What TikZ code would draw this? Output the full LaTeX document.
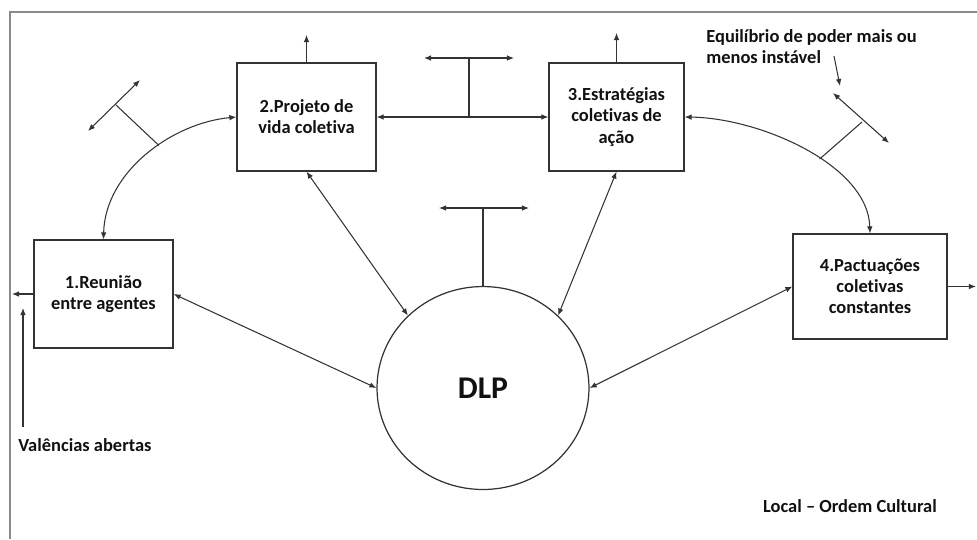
\documentclass[tikz,border=0pt]{standalone}
\usepackage{fontspec}
\setmainfont{Carlito}[Ligatures={TeX,NoCommon}]
\usetikzlibrary{arrows.meta,shapes.geometric,positioning,calc}
\definecolor{dlpInk}{HTML}{111111}
\definecolor{dlpLine}{HTML}{333333}
\definecolor{dlpFrame}{HTML}{8A8A8A}
\tikzset{
  box/.style={draw=dlpLine, line width=0.7pt, minimum width=2.78cm, minimum height=2.16cm, inner sep=2pt, align=center, text=dlpInk, font=\fontsize{10.5}{12}\selectfont\bfseries},
  hub/.style={ellipse, draw=dlpLine, line width=0.7pt, minimum width=4.24cm, minimum height=4.06cm, text=dlpInk, font=\fontsize{18}{20}\selectfont\bfseries},
  lbl/.style={inner sep=0pt, text=dlpInk, font=\fontsize{10.5}{12}\selectfont\bfseries},
  arr/.style={-{Latex[length=4pt,width=3.2pt]}, line width=0.6pt, draw=dlpLine},
  darr/.style={{Latex[length=4pt,width=3.2pt]}-{Latex[length=4pt,width=3.2pt]}, line width=0.6pt, draw=dlpLine},
  tee/.style={line width=0.6pt, draw=dlpLine},
}
\begin{document}
\begin{tikzpicture}[x=0.02cm, y=-0.02cm]
  \useasboundingbox (0,0) rectangle (977,539);
  \draw[draw=dlpFrame, line width=1.1pt] (10,539) -- (10,12) -- (977,12);
  % stages
  \node[box] (reun) at (103.5,294) {1.Reunião\\entre agentes};
  \node[box] (proj) at (306.5,117) {2.Projeto de\\vida coletiva};
  \node[box, minimum width=2.7cm] (estr) at (616.5,117) {3.Estratégias\\coletivas de\\ação};
  \node[box, minimum width=3.08cm, minimum height=2.1cm] (pact) at (870,286.5) {4.Pactuações\\coletivas\\constantes};
  \node[hub] (dlp) at (483,388) {DLP};
  % labels
  \node[lbl, anchor=west] (val) at (18,445) {Valências abertas};
  \node[lbl, anchor=west, align=left] (equi) at (706,46.5) {Equilíbrio de poder mais ou\\menos instável};
  \node[lbl] (local) at (850,506) {Local – Ordem Cultural};
  % free ends
  \coordinate (outL) at (12,294);
  \coordinate (outR) at (976,286.5);
  \coordinate (outP) at (306.5,35);
  \coordinate (outE) at (616.5,33);
  \coordinate (valB) at (23,427);
  \coordinate (valT) at (23,308);
  \coordinate (eqA) at (834,56);
  \coordinate (eqB) at (840,86);
  \coordinate (pe) at (469,117);
  \coordinate (peT) at (469,58);
  \coordinate (peL) at (424,58);
  \coordinate (peR) at (514,58);
  \coordinate (dlpT) at (483,208);
  \coordinate (dlpL) at (439,208);
  \coordinate (dlpR) at (529,208);
  \coordinate (rpT) at (116,105);
  \coordinate (rpL) at (88,131);
  \coordinate (rpR) at (140,80);
  \coordinate (epT) at (862,122);
  \coordinate (epL) at (833,93);
  \coordinate (epR) at (889,143);
  % connectors
  \foreach \u/\v in {proj.east/estr.west,proj.south/dlp.136,estr.south/dlp.44,reun.east/dlp.west,pact.west/dlp.east,peL/peR,dlpL/dlpR,rpL/rpR,epL/epR} \draw[darr] (\u) -- (\v);
  \foreach \u/\v in {reun.west/outL,pact.east/outR,proj.north/outP,estr.north/outE,valB/valT,eqA/eqB} \draw[arr] (\u) -- (\v);
  \draw[darr] (reun.north) .. controls (105,172) and (172,123) .. (proj.west) coordinate[pos=0.58] (rp);
  \draw[darr] (estr.east) .. controls (760,118) and (868,165) .. (pact.north) coordinate[pos=0.57] (ep);
  \foreach \u/\v in {pe/peT,dlp.north/dlpT,rp/rpT,ep/epT} \draw[tee] (\u) -- (\v);
\end{tikzpicture}
\end{document}
